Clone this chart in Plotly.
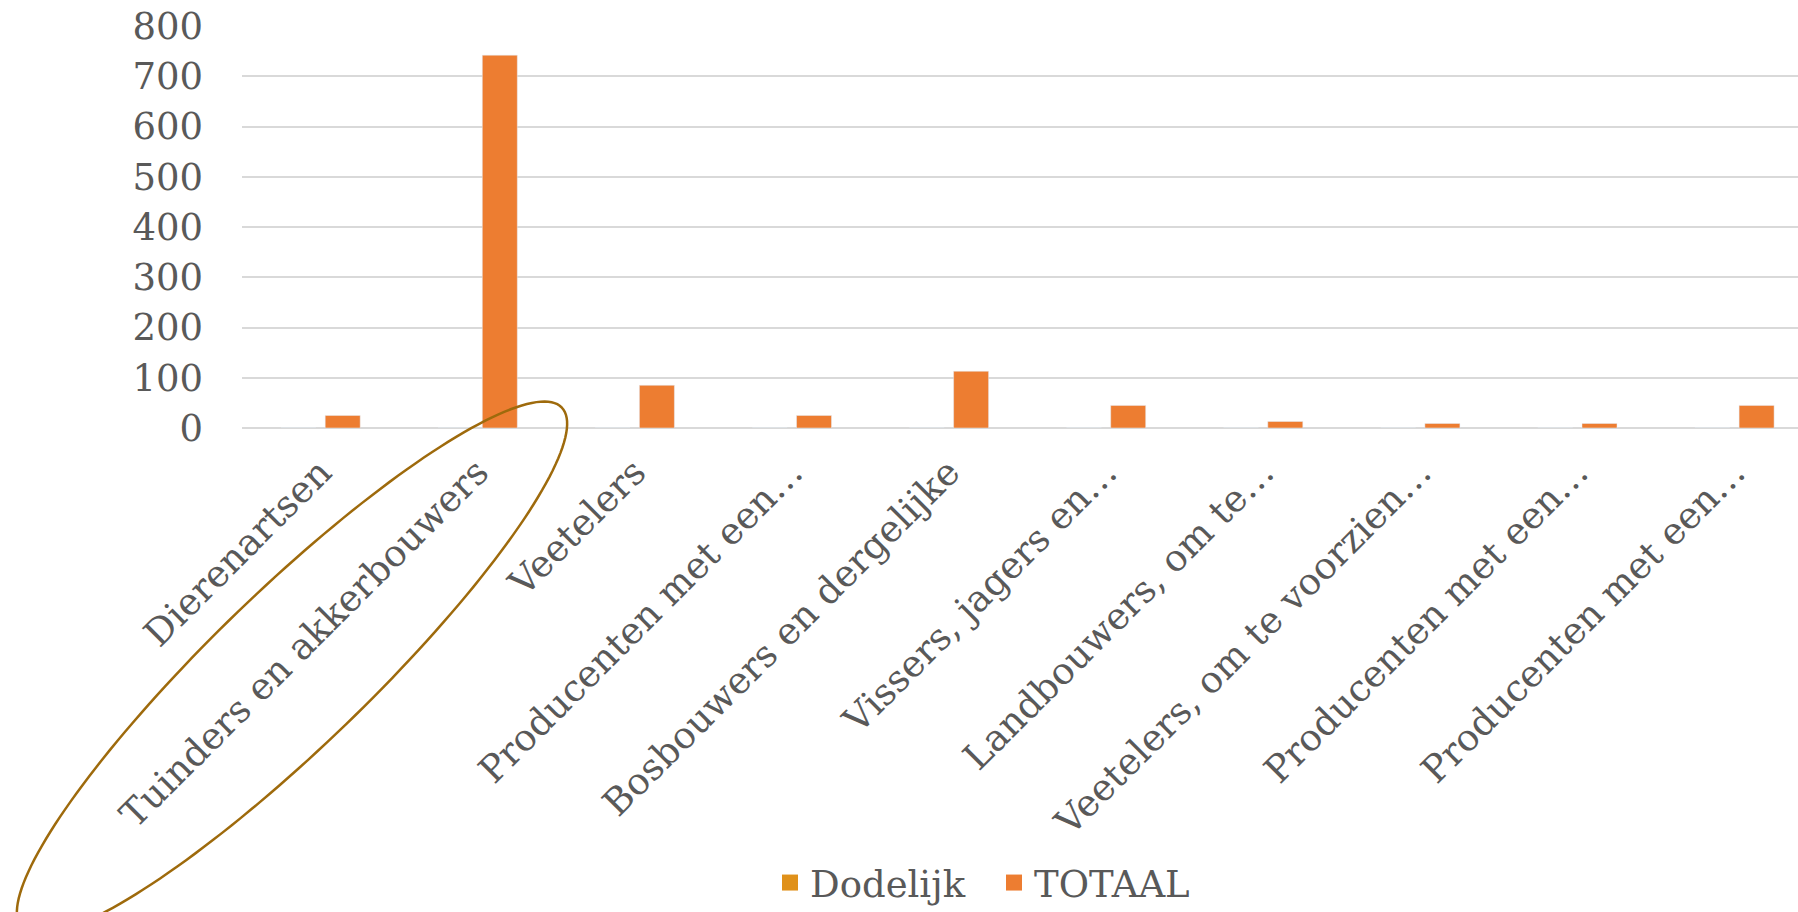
import numpy as np
import plotly.graph_objects as go

categories = [
    "Dierenartsen",
    "Tuinders en akkerbouwers",
    "Veetelers",
    "Producenten met een…",
    "Bosbouwers en dergelijke",
    "Vissers, jagers en…",
    "Landbouwers, om te…",
    "Veetelers, om te voorzien…",
    "Producenten met een…",
    "Producenten met een…",
]
dodelijk = [0, 0, 0, 0, 0, 0, 0, 0, 0, 0]
totaal = [25, 742, 85, 25, 113, 45, 13, 9, 9, 45]
y_ticks = [0, 100, 200, 300, 400, 500, 600, 700, 800]

FONT = "DejaVu Serif"
TXT = "#595959"
C_DOD = "#E0911A"
C_TOT = "#ED7D31"

W, H = 1798, 912
ML, MR, MT, MB = 242, 0, 25, 484
PW, PH = W - ML - MR, H - MT - MB
YMAX = 802

xpos = list(range(len(categories)))

fig = go.Figure()
fig.add_trace(go.Bar(x=xpos, y=dodelijk, name="Dodelijk", marker_color=C_DOD,
                     showlegend=False))
fig.add_trace(go.Bar(x=xpos, y=totaal, name="TOTAAL", marker_color=C_TOT,
                     showlegend=False))
# legend entries with larger square symbols
fig.add_trace(go.Scatter(x=[None], y=[None], mode="markers", name="Dodelijk",
                         marker=dict(symbol="square", size=22, color=C_DOD)))
fig.add_trace(go.Scatter(x=[None], y=[None], mode="markers", name="TOTAAL",
                         marker=dict(symbol="square", size=22, color=C_TOT)))

# highlight ellipse (annotation drawing), built in pixel space then mapped to paper
cx, cy, a, b, th = 292.0, 668.0, 375.0, 78.0, np.deg2rad(44.0)
t = np.linspace(0, 2 * np.pi, 181)
px = cx + a * np.cos(th) * np.cos(t) - b * np.sin(th) * np.sin(t)
py = cy - a * np.sin(th) * np.cos(t) - b * np.cos(th) * np.sin(t)
xp = (px - ML) / PW
yp = (MT + PH - py) / PH
path = "M " + " L ".join(f"{u:.5f},{v:.5f}" for u, v in zip(xp, yp)) + " Z"
fig.add_shape(type="path", path=path, xref="paper", yref="paper",
              line=dict(color="#9E6A0C", width=2.5), fillcolor="rgba(0,0,0,0)",
              layer="above")

span = PW / 157.1
fig.update_layout(
    width=W, height=H,
    margin=dict(l=ML, r=MR, t=MT, b=MB, autoexpand=False),
    paper_bgcolor="white", plot_bgcolor="white",
    font=dict(family=FONT, size=37, color=TXT),
    barmode="group", bargap=0.436, bargroupgap=0.21,
    legend=dict(orientation="h", x=(770 - ML) / PW, xanchor="left",
                y=(MT + PH - 883) / PH, yanchor="middle",
                font=dict(family=FONT, size=37, color=TXT),
                entrywidth=179, entrywidthmode="pixels",
                itemsizing="trace", bgcolor="rgba(0,0,0,0)"),
    xaxis=dict(range=[-0.5, -0.5 + span], tickmode="array", tickvals=xpos,
               ticktext=categories, tickangle=-45, showgrid=False,
               zeroline=False, showline=False, ticks="", automargin=False,
               tickfont=dict(family=FONT, size=37, color=TXT),
               ticklabelstandoff=14),
    yaxis=dict(range=[0, YMAX], tickmode="array", tickvals=y_ticks,
               showgrid=True, gridcolor="#D9D9D9", gridwidth=1.6,
               zeroline=True, zerolinecolor="#D9D9D9", zerolinewidth=1.6,
               showline=False, ticks="", automargin=False,
               ticklabeloverflow="allow",
               tickfont=dict(family=FONT, size=37, color=TXT),
               ticklabelstandoff=38),
)

fig.write_html("out.html",
               config={"displayModeBar": False},
               post_script="document.body.style.margin='0';"
                           "document.body.style.overflow='hidden';")
